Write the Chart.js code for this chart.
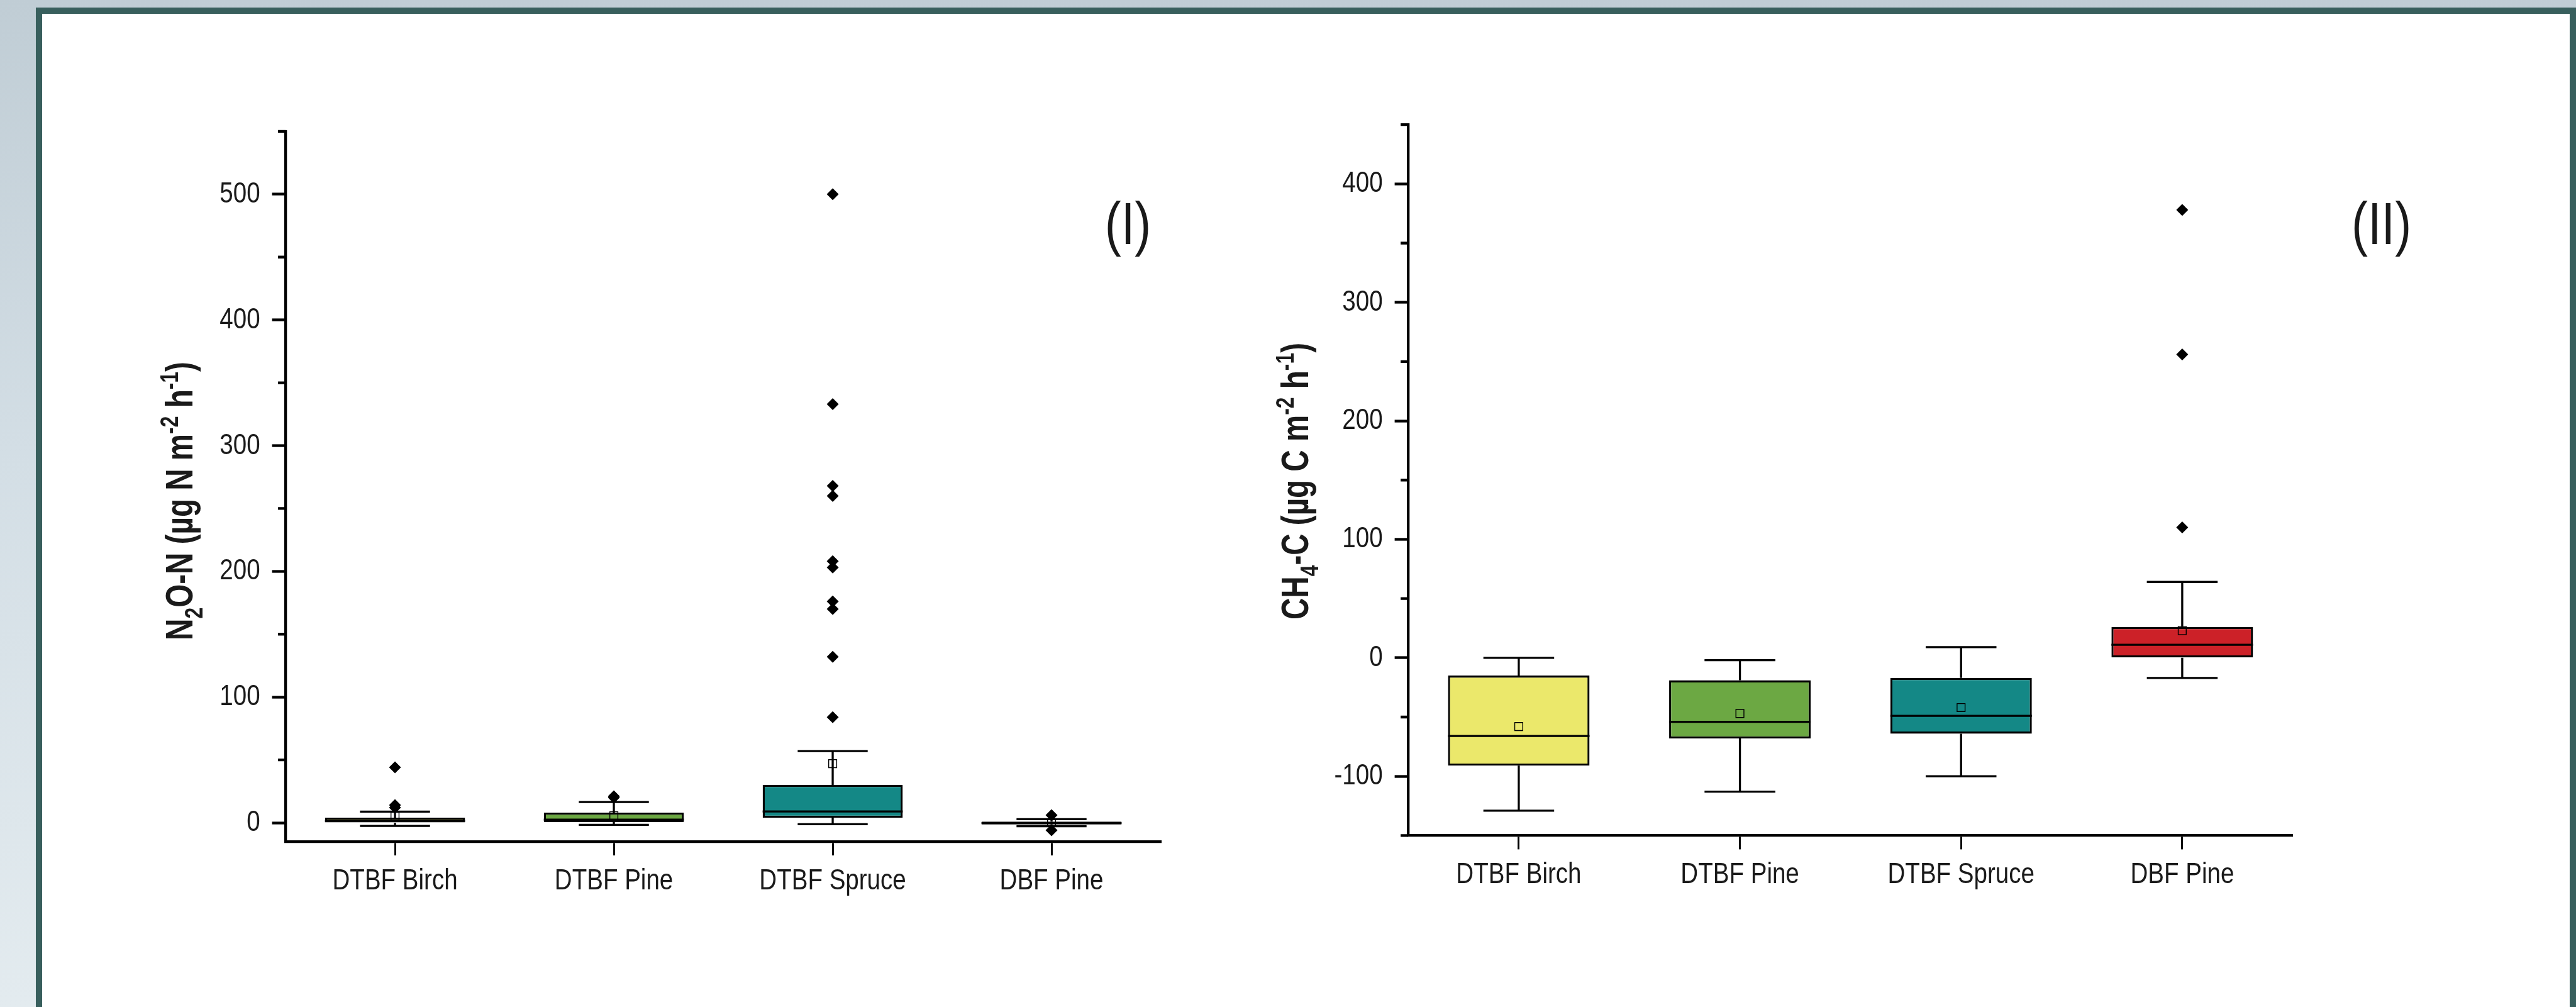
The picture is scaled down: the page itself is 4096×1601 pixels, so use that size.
<!DOCTYPE html>
<html lang="en">
<head>
<meta charset="UTF-8">
<title>N2O-N and CH4-C fluxes by forest type</title>
<script src="https://cdn.jsdelivr.net/npm/chart.js@4.4.1/dist/chart.umd.min.js"></script>
<style>
    html, body { margin: 0; padding: 0; }
    body {
        width: 4096px;
        height: 1601px;
        overflow: hidden;
        position: relative;
        background: linear-gradient(180deg, #c0cdd5 0%, #d3dee5 45%, #e3ebef 100%);
    }
    .panel {
        position: absolute;
        left: 57px;
        top: 12px;
        width: 4039px;
        height: 1640px;
        box-sizing: border-box;
        background: #fff;
        border: 10.5px solid #385f5d;
    }
    canvas { position: absolute; }
    #n2oChart { left: 80px; top: 150px; }
    #ch4Chart { left: 1980px; top: 150px; }
</style>
</head>
<body>
<div class="panel"></div>
<canvas id="n2oChart" width="1900" height="1350"></canvas>
<canvas id="ch4Chart" width="1900" height="1350"></canvas>

<script>
const categories = ['DTBF Birch', 'DTBF Pine', 'DTBF Spruce', 'DBF Pine'];
const boxColors = ['#ebe86b', '#6ca843', '#148886', '#cc2128'];

// panel (I): N2O-N
const n2oQ1 = [0, 0.5, 4, -1.4];
const n2oMedian = [1.5, 2.5, 9, -0.3];
const n2oQ3 = [4, 8, 30, 0.9];
const n2oLow = [-2.6, -1.7, -1.2, -2.8];
const n2oHigh = [8.8, 16.5, 57, 2.8];
const n2oMean = [5, 5.5, 47, 0];
const n2oOutliers = [[44, 14, 12], [21, 20], [500, 333, 268, 260, 208, 203, 176, 170, 132, 84], [6, -6]];
const n2oTicks = [0, 100, 200, 300, 400, 500];
const n2oMinor = [50, 150, 250, 350, 450, 550];
const n2oTitle = [['N', ''], ['2', 'sub'], ['O-N (µg N m', ''], ['-2', 'sup'], [' h', ''], ['-1', 'sup'], [')', '']];

// panel (II): CH4-C
const ch4Q1 = [-91, -68, -64, 0];
const ch4Median = [-66, -54, -49, 11];
const ch4Q3 = [-15, -19, -17, 26];
const ch4Low = [-129, -113, -100, -17];
const ch4High = [0, -2, 9, 64];
const ch4Mean = [-58, -47, -42, 23];
const ch4Outliers = [[], [], [], [378, 256, 110]];
const ch4Ticks = [-100, 0, 100, 200, 300, 400];
const ch4Minor = [-150, -50, 50, 150, 250, 350, 450];
const ch4Title = [['CH', ''], ['4', 'sub'], ['-C (µg C m', ''], ['-2', 'sup'], [' h', ''], ['-1', 'sup'], [')', '']];

// no narrow face installed, so Liberation Sans is squeezed sideways instead
const SANS = '"Liberation Sans", Arimo, Arial, sans-serif';
const SQUEEZE = 0.82;
const INK = '#1a1a1a';

function narrowText(ctx, text, x, y, font, align) {
    ctx.save();
    ctx.font = font;
    ctx.fillStyle = INK;
    ctx.textAlign = align;
    ctx.textBaseline = 'alphabetic';
    ctx.translate(x, y);
    ctx.scale(SQUEEZE, 1);
    ctx.fillText(text, 0, 0);
    ctx.restore();
}

function drawAxisTitle(ctx, segs, x, y, size) {
    ctx.save();
    let total = 0;
    const runs = segs.map(s => {
        const small = s[1] !== '';
        const run = {
            text: s[0],
            font: `bold ${small ? size * 0.67 : size}px ${SANS}`,
            dy: s[1] === 'sub' ? size * 0.27 : (s[1] === 'sup' ? -size * 0.37 : 0)
        };
        ctx.font = run.font;
        run.w = ctx.measureText(run.text).width;
        total += run.w;
        return run;
    });
    ctx.translate(x, y);
    ctx.rotate(-Math.PI / 2);
    ctx.scale(0.78, 1);
    ctx.fillStyle = INK;
    ctx.textAlign = 'left';
    ctx.textBaseline = 'alphabetic';
    let pos = -total / 2;
    runs.forEach(r => {
        ctx.font = r.font;
        ctx.fillText(r.text, pos, r.dy);
        pos += r.w;
    });
    ctx.restore();
}

// whiskers, medians, minor ticks and the texts
const boxExtras = {
    id: 'boxExtras',
    beforeDatasetsDraw(chart, args, opts) {
        const { ctx, scales: { x, y }, chartArea } = chart;
        const bars = chart.getDatasetMeta(opts.boxIndex).data;
        ctx.save();
        ctx.strokeStyle = '#000';
        ctx.lineWidth = 3.3;
        opts.low.forEach((lo, i) => {
            const cx = x.getPixelForValue(i);
            const cap = bars[i].width / 4;
            const yLo = y.getPixelForValue(lo);
            const yHi = y.getPixelForValue(opts.high[i]);
            ctx.beginPath();
            ctx.moveTo(cx, y.getPixelForValue(opts.q1[i]));
            ctx.lineTo(cx, yLo);
            ctx.moveTo(cx, y.getPixelForValue(opts.q3[i]));
            ctx.lineTo(cx, yHi);
            ctx.moveTo(cx - cap, yLo);
            ctx.lineTo(cx + cap, yLo);
            ctx.moveTo(cx - cap, yHi);
            ctx.lineTo(cx + cap, yHi);
            ctx.stroke();
        });
        // minor ticks on the y axis
        ctx.lineWidth = 4.3;
        ctx.beginPath();
        opts.minor.forEach(v => {
            const py = y.getPixelForValue(v);
            ctx.moveTo(chartArea.left - 12, py);
            ctx.lineTo(chartArea.left, py);
        });
        ctx.stroke();
        ctx.restore();
    },
    afterDatasetDraw(chart, args, opts) {
        if (args.index !== opts.boxIndex) return;
        const { ctx, scales: { x, y } } = chart;
        const bars = chart.getDatasetMeta(opts.boxIndex).data;
        ctx.save();
        ctx.strokeStyle = '#000';
        ctx.lineWidth = 3.3;
        opts.median.forEach((m, i) => {
            const cx = x.getPixelForValue(i);
            const half = bars[i].width / 2;
            const py = y.getPixelForValue(m);
            ctx.beginPath();
            ctx.moveTo(cx - half, py);
            ctx.lineTo(cx + half, py);
            ctx.stroke();
        });
        ctx.restore();
    },
    afterDraw(chart, args, opts) {
        const { ctx, scales: { x, y }, chartArea } = chart;
        const tickFont = `47px ${SANS}`;
        y.ticks.forEach(t => {
            narrowText(ctx, String(t.value), chartArea.left - 40.5, y.getPixelForValue(t.value) + 13, tickFont, 'right');
        });
        categories.forEach((c, i) => {
            narrowText(ctx, c, x.getPixelForValue(i), chartArea.bottom + 76, tickFont, 'center');
        });
        drawAxisTitle(ctx, opts.title, opts.titleX, opts.titleY, 61);
        narrowText(ctx, opts.tag, opts.tagX, opts.tagY, `95px ${SANS}`, 'center');
    }
};

function makeBoxChart(id, d) {
    const outlierPoints = d.outliers.flatMap((vals, i) => vals.map(v => ({ x: categories[i], y: v })));
    return new Chart(document.getElementById(id), {
        type: 'bar',
        data: {
            labels: categories,
            datasets: [{
                type: 'line',
                data: d.mean,
                showLine: false,
                pointStyle: 'rect',
                pointRadius: 9,
                pointBorderWidth: 1.4,
                pointBorderColor: '#000',
                pointBackgroundColor: 'rgba(0,0,0,0)',
                order: 0
            }, {
                type: 'line',
                data: outlierPoints,
                showLine: false,
                pointStyle: 'rectRot',
                pointRadius: 9.5,
                pointBorderWidth: 0,
                pointBackgroundColor: '#000',
                clip: false,
                order: 1
            }, {
                data: categories.map((c, i) => [d.q1[i], d.q3[i]]),
                backgroundColor: boxColors,
                borderColor: '#000',
                borderWidth: 3.3,
                borderSkipped: false,
                barPercentage: 0.64,
                categoryPercentage: 1,
                order: 2
            }]
        },
        options: {
            responsive: false,
            animation: false,
            devicePixelRatio: 1,
            events: [],
            layout: { autoPadding: false, padding: d.padding },
            plugins: {
                legend: { display: false },
                tooltip: { enabled: false },
                boxExtras: {
                    boxIndex: 2,
                    q1: d.q1, q3: d.q3, low: d.low, high: d.high, median: d.median, minor: d.minor,
                    title: d.title, titleX: d.titleX, titleY: d.titleY,
                    tag: d.tag, tagX: d.tagX, tagY: d.tagY
                }
            },
            scales: {
                x: {
                    offset: true,
                    afterFit: s => { s.height = d.xHeight; },
                    border: { color: '#000', width: 4.3 },
                    grid: { offset: false, drawOnChartArea: false, tickLength: 22, tickWidth: 2.9, tickColor: '#000' },
                    ticks: { display: false }
                },
                y: {
                    min: d.min,
                    max: d.max,
                    afterBuildTicks: s => { s.ticks = d.ticks.map(v => ({ value: v })); },
                    afterFit: s => { s.width = d.yWidth; },
                    border: { color: '#000', width: 4.3 },
                    grid: { drawOnChartArea: false, tickLength: 21.5, tickWidth: 4.3, tickColor: '#000' },
                    ticks: { display: false }
                }
            }
        },
        plugins: [boxExtras]
    });
}

makeBoxChart('n2oChart', {
    q1: n2oQ1, q3: n2oQ3, median: n2oMedian, low: n2oLow, high: n2oHigh,
    mean: n2oMean, outliers: n2oOutliers, ticks: n2oTicks, minor: n2oMinor,
    min: -15, max: 550,
    padding: { left: 0, top: 58.9, right: 134, bottom: 0 },
    yWidth: 374.1, xHeight: 162,
    title: n2oTitle, titleX: 225.6, titleY: 646.5,
    tag: '(I)', tagX: 1713.5, tagY: 237.7
});

makeBoxChart('ch4Chart', {
    q1: ch4Q1, q3: ch4Q3, median: ch4Median, low: ch4Low, high: ch4High,
    mean: ch4Mean, outliers: ch4Outliers, ticks: ch4Ticks, minor: ch4Minor,
    min: -150, max: 450,
    padding: { left: 0, top: 48.1, right: 234.3, bottom: 0 },
    yWidth: 259.1, xHeight: 171.6,
    title: ch4Title, titleX: 100, titleY: 615,
    tag: '(II)', tagX: 1806.6, tagY: 237.7
});
</script>
</body>
</html>
